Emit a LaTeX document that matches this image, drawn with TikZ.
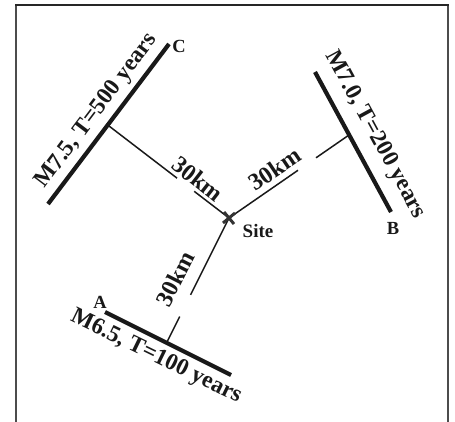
\documentclass[tikz,border=0pt]{standalone}
\usepackage{fontspec}
\setmainfont{Liberation Serif}
\usetikzlibrary{calc}
\begin{document}
\begin{tikzpicture}[x=1pt,y=1pt,
  fault/.style={line width=4.2pt, black!90},
  dist/.style={line width=1.5pt, black!90},
  lab/.style={font=\fontsize{23.5}{28}\selectfont\bfseries, inner sep=0pt, text=black!90},
  km/.style={font=\fontsize{24}{28}\selectfont\bfseries, inner sep=0pt, text=black!90},
  letter/.style={font=\fontsize{18.5}{20}\selectfont\bfseries, inner sep=0pt, text=black!90},
  sitelab/.style={font=\fontsize{19}{22}\selectfont\bfseries, inner sep=0pt, text=black!90}]
\useasboundingbox (0,0) rectangle (455,-422);
% frame
\draw[gray!60!black, line width=2pt] (16,-422) -- (16,-5);
\draw[gray!60!black, line width=2pt] (448,-422) -- (448,-5);
\draw[black!85, line width=1.2pt] (15,-5) -- (449,-5);
% points
\coordinate (site) at (229,-218);
\coordinate (C1) at (48,-204);
\coordinate (C2) at (169,-44);
\coordinate (Cf) at (109,-126);
\coordinate (B1) at (315,-72);
\coordinate (B2) at (391,-212);
\coordinate (Bf) at (349,-135);
\coordinate (A1) at (105,-312);
\coordinate (A2) at (231,-375);
\coordinate (Af) at (167,-342);
% faults
\draw[fault] (C1) -- (C2);
\draw[fault] (B1) -- (B2);
\draw[fault] (A1) -- (A2);
% distance lines with gaps
\draw[dist] (site) -- ($(site)!0.29!(Cf)$);
\draw[dist] ($(site)!0.433!(Cf)$) -- (Cf);
\draw[dist] (site) -- ($(site)!0.575!(Bf)$);
\draw[dist] ($(site)!0.725!(Bf)$) -- (Bf);
\draw[dist] (site) -- ($(site)!0.62!(Af)$);
\draw[dist] ($(site)!0.795!(Af)$) -- (Af);
% site marker
\draw[gray!40!black, line width=3pt] ($(site)+(-6,-5)$) -- ($(site)+(6,5)$);
\draw[gray!40!black, line width=3pt] ($(site)+(-5,6)$) -- ($(site)+(5,-6)$);
% labels
\node[lab, rotate=53] (lc) at (97,-111) {M7.5, T=500 years};
\node[lab, rotate=-61.5] (lb) at (375,-135) {M7.0, T=200 years};
\node[lab, rotate=-26] (la) at (156,-357) {M6.5, T=100 years};
\node[km, rotate=-38] (kc) at (198,-179) {30km};
\node[km, rotate=34] (kb) at (275,-169) {30km};
\node[km, rotate=63] (ka) at (175,-279) {30km};
\node[letter] (nc) at (179,-46) {C};
\node[letter] (nb) at (393,-228) {B};
\node[letter] (na) at (100,-302) {A};
\node[sitelab] (ns) at (258,-231) {Site};
\end{tikzpicture}
\end{document}
